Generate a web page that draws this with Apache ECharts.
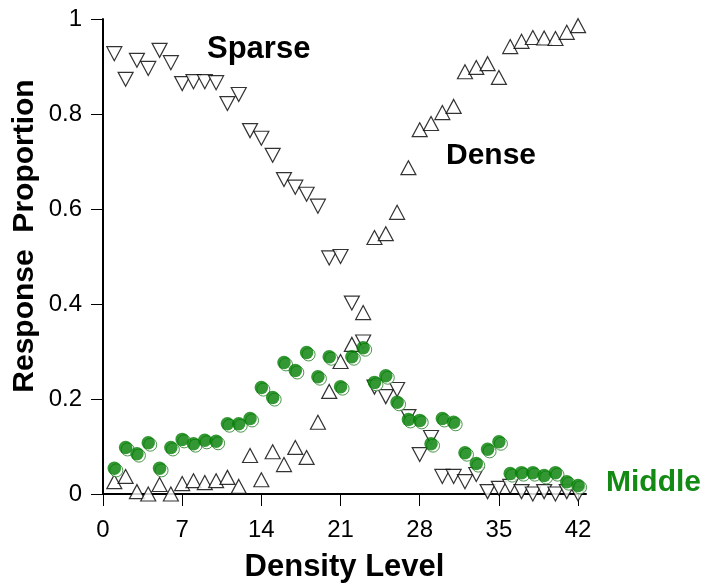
<!DOCTYPE html>
<html><head><meta charset="utf-8">
<script src="https://cdn.jsdelivr.net/npm/echarts@6/dist/echarts.min.js"></script>
<style>html,body{margin:0;padding:0;background:#fff}#c{width:710px;height:587px}</style>
</head><body><div id="c"></div>
<script>
const levels = [1,2,3,4,5,6,7,8,9,10,11,12,13,14,15,16,17,18,19,20,21,22,23,24,25,26,27,28,29,30,31,32,33,34,35,36,37,38,39,40,41,42];
const sparse = [0.927,0.873,0.913,0.896,0.934,0.908,0.864,0.868,0.868,0.866,0.822,0.841,0.765,0.749,0.713,0.662,0.646,0.631,0.606,0.497,0.500,0.402,0.320,0.225,0.205,0.220,0.163,0.083,0.119,0.037,0.037,0.026,0.041,0.005,0.012,0.016,0.005,0.000,0.005,0.000,0.005,0.000];
const dense = [0.026,0.037,0.005,0.000,0.020,0.000,0.022,0.028,0.024,0.028,0.035,0.016,0.081,0.030,0.089,0.062,0.098,0.077,0.151,0.216,0.279,0.315,0.382,0.540,0.548,0.593,0.687,0.767,0.780,0.803,0.816,0.889,0.898,0.906,0.877,0.942,0.953,0.961,0.960,0.959,0.972,0.986];
const middle = [0.054,0.098,0.085,0.108,0.054,0.098,0.115,0.106,0.113,0.111,0.148,0.148,0.159,0.224,0.203,0.277,0.260,0.298,0.247,0.289,0.226,0.289,0.308,0.235,0.249,0.193,0.157,0.155,0.106,0.159,0.151,0.087,0.064,0.094,0.110,0.043,0.045,0.045,0.039,0.045,0.026,0.018];
const xTicks = [0,7,14,21,28,35,42];
const yTicks = [0,0.2,0.4,0.6,0.8,1];
const seriesLabels = ['Sparse','Dense','Middle'];
const yTitle = 'Response  Proportion';

const pair = arr => levels.map((x,i)=>[x,arr[i]]);
const FONT = '"Liberation Sans", Arial, sans-serif';
const chart = echarts.init(document.getElementById('c'), null, {renderer:'canvas'});
chart.setOption({
  animation:false,
  backgroundColor:'#fff',
  grid:{left:103,right:124,top:19,bottom:93,containLabel:false,outerBoundsMode:'none'},
  xAxis:{
    type:'value',min:0,max:42.7,
    name:'Density Level',nameLocation:'middle',nameGap:58,
    nameTextStyle:{fontFamily:FONT,fontWeight:'bold',fontSize:31,color:'#000'},
    axisLine:{show:true,onZero:false,lineStyle:{color:'#000',width:2}},
    axisTick:{show:true,inside:false,length:12,lineStyle:{color:'#000',width:1},customValues:xTicks},
    axisLabel:{show:true,margin:24,fontFamily:FONT,fontSize:24,color:'#000',customValues:xTicks},
    splitLine:{show:false}
  },
  yAxis:{
    type:'value',min:0,max:1,interval:0.2,
    axisLine:{show:true,lineStyle:{color:'#000',width:2}},
    axisTick:{show:true,inside:false,length:12,lineStyle:{color:'#000',width:1}},
    axisLabel:{show:true,margin:21,fontFamily:FONT,fontSize:24,color:'#000',
      formatter:v=>{const t=yTicks.find(k=>Math.abs(k-v)<1e-6);return t===undefined?'':String(t);}},
    splitLine:{show:false}
  },
  series:[
    {name:seriesLabels[0],type:'scatter',data:pair(sparse),symbol:'triangle',symbolRotate:180,symbolSize:[15,14],
     itemStyle:{color:'#fff',borderColor:'#000',borderWidth:1.2},z:2},
    {name:seriesLabels[1],type:'scatter',data:pair(dense),symbol:'triangle',symbolSize:[15,14],
     itemStyle:{color:'#fff',borderColor:'#000',borderWidth:1.2},z:3},
    {name:seriesLabels[2]+' shade',type:'scatter',data:pair(middle),symbol:'circle',symbolSize:13,symbolOffset:[2,2],
     itemStyle:{color:'#fff',borderColor:'#1f7a1f',borderWidth:1},z:4},
    {name:seriesLabels[2],type:'scatter',data:pair(middle),symbol:'circle',symbolSize:13.5,
     itemStyle:{color:'#007d00',borderWidth:0},z:5}
  ],
  graphic:[
    {type:'text',x:25,y:236,rotation:Math.PI/2,style:{text:yTitle,font:'bold 30px '+FONT,fill:'#000',align:'center',verticalAlign:'middle'}},
    {type:'text',left:207,top:34,style:{text:seriesLabels[0],font:'bold 31px '+FONT,fill:'#000'}},
    {type:'text',left:446,top:141,style:{text:seriesLabels[1],font:'bold 30px '+FONT,fill:'#000'}},
    {type:'text',left:606,top:468,style:{text:seriesLabels[2],font:'bold 30px '+FONT,fill:'#138a13'}}
  ]
});
</script></body></html>
